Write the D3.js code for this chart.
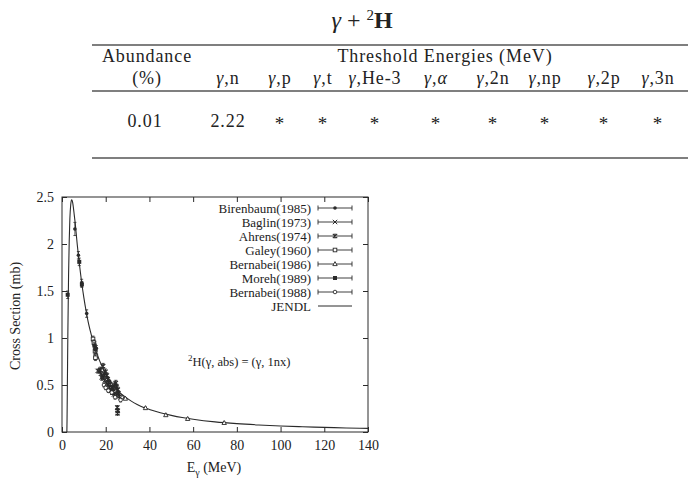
<!DOCTYPE html>
<html><head><meta charset="utf-8">
<script src="https://cdn.jsdelivr.net/npm/d3@7"></script>
<style>
html,body{margin:0;padding:0;background:#fff;}
svg{display:block;}
text{fill:#222;}
</style></head>
<body>
<svg id="c" width="690" height="483"></svg>
<script>
// ---------- table data ----------
const abundance = "0.01";
const channels = ["n","p","t","He-3","α","2n","np","2p","3n"];
const thresholds = ["2.22","*","*","*","*","*","*","*","*"];

// ---------- chart data ----------
const xTicks = [0,20,40,60,80,100,120,140];
const yTicks = [0,0.5,1,1.5,2,2.5];
const legendNames = ["Birenbaum(1985)","Baglin(1973)","Ahrens(1974)","Galey(1960)","Bernabei(1986)","Moreh(1989)","Bernabei(1988)","JENDL"];
// JENDL evaluated curve [E (MeV), sigma (mb)]
const jendl = [[2.224,0],[2.3,0.12],[2.4,0.35],[2.5,0.6],[2.7,1.09],[3.0,1.66],[3.3,2.03],[3.6,2.27],[4.0,2.42],[4.4,2.47],[4.8,2.45],[5.2,2.39],[5.6,2.31],[6.0,2.23],[6.5,2.11],[7,1.99],[7.5,1.88],[8,1.78],[9,1.59],[10,1.43],[11,1.29],[12,1.17],[13,1.07],[14,0.98],[15,0.90],[16,0.83],[17,0.77],[18,0.715],[19,0.665],[20,0.62],[22,0.545],[24,0.48],[26,0.43],[28,0.39],[30,0.355],[33,0.31],[36,0.275],[40,0.24],[45,0.205],[50,0.177],[55,0.154],[60,0.136],[70,0.108],[80,0.089],[90,0.075],[100,0.064],[110,0.056],[120,0.049],[130,0.043],[140,0.039]];
// measured points [E, sigma, error]
const birenbaum = [[5.9,2.16,0.07],[7.5,1.88,0.04],[9.0,1.585,0.04],[11.3,1.26,0.04],[14.4,0.97,0.03],[15.0,0.93,0.03],[15.7,0.89,0.03]];
const baglin = [[16.3,0.65,0.02],[17.0,0.645,0.02],[17.8,0.62,0.02],[18.5,0.60,0.02],[19.0,0.575,0.02],[19.6,0.55,0.02],[20.3,0.52,0.02],[21.0,0.50,0.02],[21.6,0.47,0.02],[22.4,0.44,0.02],[23.1,0.42,0.02],[23.8,0.40,0.02],[24.5,0.39,0.02],[25.2,0.40,0.02]];
const ahrens = [[17.5,0.66,0.03],[18.2,0.58,0.03],[18.8,0.70,0.03],[19.4,0.62,0.03],[19.9,0.64,0.03],[20.5,0.60,0.03],[20.9,0.56,0.03],[21.4,0.53,0.03],[22.0,0.51,0.03],[22.6,0.45,0.03],[23.2,0.47,0.03],[23.6,0.43,0.03],[24.1,0.50,0.03],[24.6,0.52,0.03],[25.0,0.48,0.03],[25.5,0.45,0.03],[25.8,0.41,0.03],[26.3,0.38,0.03],[25.3,0.26,0.02],[25.5,0.225,0.02],[25.4,0.20,0.02]];
const galey = [[14.2,0.99,0.03],[14.6,0.95,0.03],[15.1,0.86,0.03],[15.5,0.81,0.03],[15.3,0.79,0.03]];
const bernabei1986 = [[27.5,0.37,0.01],[29.0,0.355,0.01],[38.2,0.255,0.01],[47.5,0.18,0.01],[57.5,0.14,0.01],[74.2,0.097,0.008]];
const moreh = [[2.6,1.46,0.04],[7.9,1.81,0.04],[9.1,1.57,0.03],[14.8,0.92,0.03],[15.3,0.88,0.03]];
const bernabei1988 = [[19.2,0.50,0.02],[20.0,0.47,0.02],[21.2,0.44,0.02],[22.8,0.42,0.02],[24.3,0.37,0.02],[26.8,0.34,0.02]];

const svg = d3.select("#c");
const ink = "#2a2a2a";
const serifTab = "'Liberation Serif','Times New Roman',serif";

// ---------- title ----------
const title = svg.append("text").attr("x",362).attr("y",28).attr("text-anchor","middle")
  .style("font-family",serifTab).style("font-size","24px");
title.append("tspan").style("font-style","italic").text("γ");
title.append("tspan").text(" + ");
title.append("tspan").attr("dy",-8).style("font-size","15px").text("2");
title.append("tspan").attr("dy",8).style("font-weight","bold").text("H");

// ---------- table ----------
const tab = svg.append("g").style("font-family",serifTab).style("font-size","18px").style("letter-spacing","0.9px");
[45,91,158].forEach(y=>tab.append("line").attr("x1",92).attr("x2",688).attr("y1",y).attr("y2",y).attr("stroke","#555").attr("stroke-width",1.5));
tab.append("text").attr("x",147).attr("y",62).attr("text-anchor","middle").text("Abundance");
tab.append("text").attr("x",445).attr("y",62).attr("text-anchor","middle").text("Threshold Energies (MeV)");
tab.append("text").attr("x",147).attr("y",84).attr("text-anchor","middle").text("(%)");
tab.append("text").attr("x",145).attr("y",127).attr("text-anchor","middle").text(abundance);
const colCenters = {"n":228,"p":280,"t":323,"He-3":375,"α":436,"2n":493,"np":545,"2p":604,"3n":658};
channels.forEach((c,i)=>{
  const t = tab.append("text").attr("x",colCenters[c]).attr("y",84).attr("text-anchor","middle");
  t.append("tspan").style("font-style","italic").text("γ");
  t.append("tspan").text(",");
  if(c==="α") t.append("tspan").style("font-style","italic").text("α"); else t.append("tspan").text(c);
  tab.append("text").attr("x",colCenters[c]).attr("y",thresholds[i]==="*"?130:127).attr("text-anchor","middle")
    .style("font-size",thresholds[i]==="*"?"19px":"18px").text(thresholds[i]);
});

// ---------- chart ----------
const x = d3.scaleLinear().domain([0,140]).range([62,368]);
const y = d3.scaleLinear().domain([0,2.5]).range([432,197]);
const g = svg.append("g").style("font-family","'Liberation Serif','Times New Roman',serif");

g.append("rect").attr("x",x(0)).attr("y",y(2.5)).attr("width",x(140)-x(0)).attr("height",y(0)-y(2.5))
  .attr("fill","none").attr("stroke",ink).attr("stroke-width",1);

const tl = 5;
const axB = d3.axisBottom(x).tickValues(xTicks).tickSize(-tl).tickPadding(8).tickFormat(d3.format("d"));
const axT = d3.axisTop(x).tickValues(xTicks).tickSize(-tl).tickFormat("");
const axL = d3.axisLeft(y).tickValues(yTicks).tickSize(-tl).tickPadding(8).tickFormat(d=>String(d));
const axR = d3.axisRight(y).tickValues(yTicks).tickSize(-tl).tickFormat("");
function styleAx(sel){sel.select(".domain").remove();sel.selectAll("line").attr("stroke",ink);
  sel.selectAll("text").style("font-family","'Liberation Serif','Times New Roman',serif").style("font-size","14px").attr("fill","#222");}
g.append("g").attr("transform",`translate(0,${y(0)})`).call(axB).call(styleAx);
g.append("g").attr("transform",`translate(0,${y(2.5)})`).call(axT).call(styleAx);
g.append("g").attr("transform",`translate(${x(0)},0)`).call(axL).call(styleAx);
g.append("g").attr("transform",`translate(${x(140)},0)`).call(axR).call(styleAx);

// axis titles
g.append("text").attr("transform","translate(20,316) rotate(-90)").attr("text-anchor","middle")
  .style("font-size","14px").text("Cross Section (mb)");
const xl = g.append("text").attr("x",214).attr("y",472).attr("text-anchor","middle").style("font-size","14px");
xl.append("tspan").text("E");
xl.append("tspan").attr("dy",4).style("font-size","10px").text("γ");
xl.append("tspan").attr("dy",-4).text(" (MeV)");

// JENDL curve
svg.append("clipPath").attr("id","pc").append("rect").attr("x",x(0)).attr("y",y(2.5)).attr("width",x(140)-x(0)).attr("height",y(0)-y(2.5));
g.append("path").datum(jendl).attr("clip-path","url(#pc)")
  .attr("d",d3.line().x(d=>x(d[0])).y(d=>y(d[1])).curve(d3.curveMonotoneX))
  .attr("fill","none").attr("stroke",ink).attr("stroke-width",1.1);

// marker drawers
function marker(sel,type){
  const s = ink;
  if(type==="circle") sel.append("circle").attr("r",1.8).attr("fill",s);
  else if(type==="x"){sel.append("path").attr("d","M-2.2,-2.2L2.2,2.2M-2.2,2.2L2.2,-2.2").attr("stroke",s).attr("stroke-width",1);}
  else if(type==="star"){sel.append("path").attr("d","M-2.2,-2.2L2.2,2.2M-2.2,2.2L2.2,-2.2M0,-2.6L0,2.6").attr("stroke",s).attr("stroke-width",1.1);}
  else if(type==="osquare") sel.append("rect").attr("x",-1.8).attr("y",-1.8).attr("width",3.6).attr("height",3.6).attr("fill","#fff").attr("stroke",s).attr("stroke-width",0.9);
  else if(type==="triangle") sel.append("path").attr("d","M0,-2.4L2.2,1.6L-2.2,1.6Z").attr("fill","#fff").attr("stroke",s).attr("stroke-width",0.9);
  else if(type==="fsquare") sel.append("rect").attr("x",-2).attr("y",-2).attr("width",4).attr("height",4).attr("fill",s);
  else if(type==="ocircle") sel.append("circle").attr("r",1.8).attr("fill","#fff").attr("stroke",s).attr("stroke-width",0.9);
}
const series = [
  {data:birenbaum,type:"circle"},{data:baglin,type:"x"},{data:ahrens,type:"star"},{data:galey,type:"osquare"},
  {data:bernabei1986,type:"triangle"},{data:moreh,type:"fsquare"},{data:bernabei1988,type:"ocircle"}
];
series.forEach(sr=>{
  sr.data.forEach(d=>{
    const px=x(d[0]), py=y(d[1]), p1=y(d[1]+d[2]), p2=y(d[1]-d[2]);
    g.append("path").attr("d",`M${px},${p1}L${px},${p2}M${px-1.5},${p1}L${px+1.5},${p1}M${px-1.5},${p2}L${px+1.5},${p2}`)
      .attr("stroke",ink).attr("stroke-width",0.8);
    const m = g.append("g").attr("transform",`translate(${px},${py})`);
    marker(m,sr.type);
  });
});

// legend
const leg = g.append("g");
legendNames.forEach((name,i)=>{
  const ly = 208 + i*14;
  leg.append("text").attr("x",311).attr("y",ly+4.5).attr("text-anchor","end").style("font-size","13px").text(name);
  if(i<7){
    leg.append("path").attr("d",`M318,${ly}L352,${ly}M318,${ly-2.5}L318,${ly+2.5}M352,${ly-2.5}L352,${ly+2.5}`).attr("stroke",ink).attr("stroke-width",0.9);
    const m = leg.append("g").attr("transform",`translate(335,${ly})`);
    marker(m,series[i].type);
  } else {
    leg.append("line").attr("x1",318).attr("x2",352).attr("y1",ly).attr("y2",ly).attr("stroke",ink).attr("stroke-width",1);
  }
});

// annotation
const an = g.append("text").attr("x",188).attr("y",366).style("font-size","12.5px");
an.append("tspan").attr("dy",-5).style("font-size","9px").text("2");
an.append("tspan").attr("dy",5).text("H(γ, abs) = (γ, 1nx)");
</script>
</body></html>
